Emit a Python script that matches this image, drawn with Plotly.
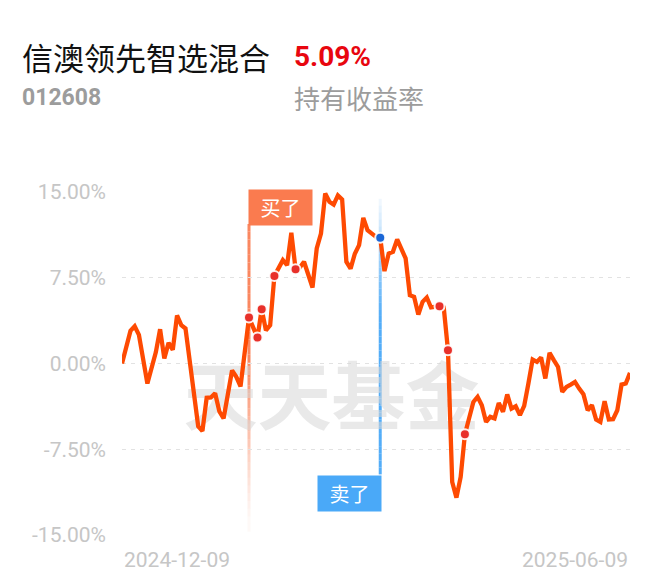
import plotly.graph_objects as go

# ---------------- data ----------------
fund_name = "信澳领先智选混合"
fund_code = "012608"
holding_return = "5.09%"
return_label = "持有收益率"
start_date = "2024-12-09"
end_date = "2025-06-09"

day_index = [0, 2, 3, 4, 6, 7, 8, 9, 10, 11, 12, 13, 14, 15, 18, 19, 20, 21, 22, 23,
             24, 26, 27, 28, 29, 30, 32, 33, 34, 35, 36, 37, 38, 39, 40, 41, 42, 43, 45, 46,
             47, 48, 49, 50, 51, 52, 53, 54, 55, 56, 57, 58, 60, 61, 62, 63, 64, 65, 66, 67,
             68, 69, 70, 71, 72, 73, 75, 76, 77, 78, 79, 80, 81, 83, 84, 85, 86, 87, 88, 89,
             90, 91, 92, 93, 94, 95, 96, 97, 98, 99, 100, 101, 102, 103, 104, 105, 106, 107, 108, 109,
             110, 111, 112, 113, 114, 115, 116, 117, 118, 119, 120]
returns = [0.0, 2.85, 3.26, 2.5, -1.75, -0.44, 1.0, 3.0, 0.44, 1.8, 1.2, 4.2, 3.35, 3.06, -5.5, -5.9, -3.0, -2.97, -2.6, -4.2,
           -4.8, -0.6, -1.17, -2.0, 0.87, 4.02, 2.27, 4.75, 2.9, 3.35, 7.66, 8.4, 9.04, 8.6, 11.43, 8.25, 8.4, 8.9, 6.65, 10.06,
           11.37, 14.87, 14.14, 13.9, 14.7, 14.35, 8.9, 8.3, 9.6, 10.35, 12.74, 11.66, 11.08, 11.0, 8.08, 9.62, 9.77, 10.85, 10.06, 9.19,
           5.98, 5.83, 4.29, 5.39, 5.77, 4.9, 5.01, 4.9, 1.16, -10.36, -11.73, -9.92, -6.19, -3.36, -2.92, -3.65, -5.11, -4.67, -4.8, -3.45,
           -4.23, -2.71, -3.94, -3.74, -4.52, -3.71, -1.75, 0.35, 0.14, 0.52, -1.31, 0.93, 0.29, -0.3, -2.48, -2.05, -1.84, -1.61, -2.19, -2.69,
           -4.09, -3.65, -4.9, -5.11, -3.3, -4.9, -4.87, -4.09, -1.84, -1.75, -0.82]

buy_days = [30, 32, 33, 36, 41, 75, 77, 81]
sell_days = [61]
buy_flag_day = 30
sell_flag_day = 61

y_ticks = [-15, -7.5, 0, 7.5, 15]
y_tick_labels = ["-15.00%", "-7.50%", "0.00%", "7.50%", "15.00%"]

# ---------------- styles ----------------
LINE_COLOR = "#fe4a02"
BUY_COLOR = "#e8302a"
SELL_COLOR = "#1a66d6"
BUY_FLAG = "#fa7b4f"
SELL_FLAG = "#4aa9f8"
GRID = "#e2e2e2"
TICK = "#c6c6c6"

lookup = dict(zip(day_index, returns))

fig = go.Figure()

# watermark (drawn under the line)
fig.add_trace(go.Scatter(
    x=[49.5], y=[-3.7], mode="text", text=["天天基金"],
    textfont=dict(family="Noto Sans CJK SC", size=74, color="rgba(215,215,215,0.55)", weight="bold"),
    hoverinfo="skip", showlegend=False))

fig.add_trace(go.Scatter(
    x=day_index, y=returns, mode="lines",
    line=dict(color=LINE_COLOR, width=4.3, shape="linear"),
    hoverinfo="skip", showlegend=False))

fig.add_trace(go.Scatter(
    x=buy_days, y=[lookup[d] for d in buy_days], mode="markers",
    marker=dict(color=BUY_COLOR, size=10, line=dict(color="rgba(255,255,255,0.9)", width=2)),
    hoverinfo="skip", showlegend=False))

fig.add_trace(go.Scatter(
    x=sell_days, y=[lookup[d] for d in sell_days], mode="markers",
    marker=dict(color=SELL_COLOR, size=10, line=dict(color="rgba(255,255,255,0.9)", width=2)),
    hoverinfo="skip", showlegend=False))

shapes = []
n = 40
# buy flag pole, fading downward
top_b, bot_b = 12.2, -14.7
for i in range(n):
    y0 = top_b + (bot_b - top_b) * i / n
    y1 = top_b + (bot_b - top_b) * (i + 1) / n
    t = i / n
    op = 0.9 if t < 0.45 else max(0.04, 0.9 * (1 - (t - 0.45) / 0.55) ** 1.3)
    shapes.append(dict(type="line", xref="x", yref="y", x0=buy_flag_day, x1=buy_flag_day,
                       y0=y0, y1=y1, line=dict(color=BUY_FLAG, width=3), opacity=op, layer="below"))
# sell flag pole, fading upward
top_s, bot_s = 14.4, -9.7
for i in range(n):
    y0 = top_s + (bot_s - top_s) * i / n
    y1 = top_s + (bot_s - top_s) * (i + 1) / n
    t = i / n
    op = min(0.95, 0.08 + 0.95 * (t / 0.45)) if t < 0.45 else 0.95
    shapes.append(dict(type="line", xref="x", yref="y", x0=sell_flag_day, x1=sell_flag_day,
                       y0=y0, y1=y1, line=dict(color=SELL_FLAG, width=3), opacity=op, layer="below"))

annotations = [
    dict(text=fund_name, xref="paper", yref="paper", x=-0.2008, y=1.3936, xanchor="left", yanchor="middle",
         showarrow=False, font=dict(family="Noto Sans CJK SC", size=31, color="#111111")),
    dict(text=holding_return, xref="paper", yref="paper", x=0.3346, y=1.3936, xanchor="left", yanchor="middle",
         showarrow=False, font=dict(family="Roboto", size=28, color="#e8060f", weight="bold")),
    dict(text=fund_code, xref="paper", yref="paper", x=-0.2008, y=1.2741, xanchor="left", yanchor="middle",
         showarrow=False, font=dict(family="Roboto", size=23, color="#9c9c9c", weight="bold")),
    dict(text=return_label, xref="paper", yref="paper", x=0.3346, y=1.2741, xanchor="left", yanchor="middle",
         showarrow=False, font=dict(family="Noto Sans CJK SC", size=26, color="#9c9c9c")),
    dict(text=start_date, xref="x", yref="paper", x=day_index[0], y=-0.073, xanchor="left", yanchor="middle",
         showarrow=False, font=dict(family="Roboto", size=21, color=TICK)),
    dict(text=end_date, xref="x", yref="paper", x=day_index[-1], y=-0.073, xanchor="right", yanchor="middle",
         showarrow=False, font=dict(family="Roboto", size=21, color=TICK)),
    dict(text="买了", xref="x", yref="paper", x=buy_flag_day, y=1.0087, xanchor="left", yanchor="top",
         xshift=-1.5, showarrow=False, width=63, height=35, bgcolor=BUY_FLAG, borderpad=0,
         font=dict(family="Noto Sans CJK SC", size=20, color="white")),
    dict(text="卖了", xref="x", yref="paper", x=sell_flag_day, y=0.1749, xanchor="right", yanchor="top",
         xshift=1.5, showarrow=False, width=63, height=35, bgcolor=SELL_FLAG, borderpad=0,
         font=dict(family="Noto Sans CJK SC", size=20, color="white")),
]

# page body has an 8px default margin, so the figure is 8px smaller and shifted
fig.update_layout(
    width=652, height=577,
    margin=dict(l=114, r=30, t=184, b=50),
    paper_bgcolor="white", plot_bgcolor="white",
    shapes=shapes, annotations=annotations,
    showlegend=False,
    xaxis=dict(range=[day_index[0], day_index[-1]], showgrid=False, zeroline=False,
               showticklabels=False, showline=False, fixedrange=True),
    yaxis=dict(range=[-15, 15], tickvals=y_ticks, ticktext=y_tick_labels,
               showgrid=True, gridcolor=GRID, griddash="4px,5px", gridwidth=1,
               zeroline=False, showline=False, ticks="", ticklabelstandoff=15,
               tickfont=dict(family="Roboto", size=21, color=TICK), fixedrange=True),
)

fig.write_html("out.html", config={"displayModeBar": False})
